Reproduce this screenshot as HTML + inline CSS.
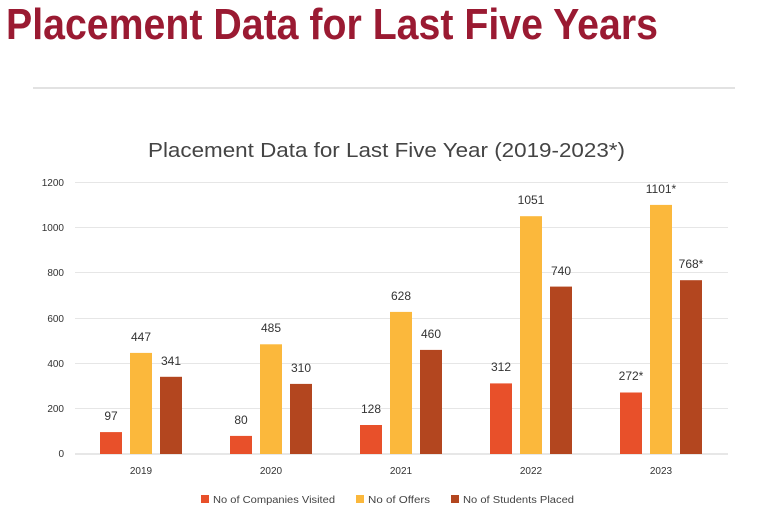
<!DOCTYPE html>
<html><head><meta charset="utf-8"><style>
html,body{margin:0;padding:0;background:#fff;}
svg{display:block;font-family:"Liberation Sans",sans-serif;}
</style></head><body>
<svg width="768" height="512" viewBox="0 0 768 512">
<text x="6" y="39" font-family="Liberation Sans Narrow, Liberation Sans, sans-serif" font-weight="bold" font-size="44" fill="#9a1a32" textLength="652" lengthAdjust="spacingAndGlyphs">Placement Data for Last Five Years</text>
<rect x="33" y="87" width="702" height="2" fill="#e2e2e2"/>
<text x="148" y="157" font-size="20" fill="#444" textLength="477" lengthAdjust="spacingAndGlyphs">Placement Data for Last Five Year (2019-2023*)</text>
<g stroke="#e6e6e6" stroke-width="1">
<line x1="75" x2="728" y1="182.5" y2="182.5"/>
<line x1="75" x2="728" y1="227.5" y2="227.5"/>
<line x1="75" x2="728" y1="272.5" y2="272.5"/>
<line x1="75" x2="728" y1="318.5" y2="318.5"/>
<line x1="75" x2="728" y1="363.5" y2="363.5"/>
<line x1="75" x2="728" y1="408.5" y2="408.5"/>
</g>
<line x1="75" x2="728" y1="454" y2="454" stroke="#cfcfcf" stroke-width="1"/>
<g font-size="10" fill="#333" text-anchor="end">
<text x="64" y="186">1200</text><text x="64" y="231">1000</text><text x="64" y="276">800</text>
<text x="64" y="322">600</text><text x="64" y="367">400</text><text x="64" y="412">200</text><text x="64" y="457">0</text>
</g>
<g>
<rect x="100" y="432.1" width="22" height="21.9" fill="#e8502a"/>
<rect x="130" y="352.9" width="22" height="101.1" fill="#fbb83c"/>
<rect x="160" y="376.8" width="22" height="77.2" fill="#b3461f"/>
<rect x="230" y="435.9" width="22" height="18.1" fill="#e8502a"/>
<rect x="260" y="344.3" width="22" height="109.7" fill="#fbb83c"/>
<rect x="290" y="383.9" width="22" height="70.1" fill="#b3461f"/>
<rect x="360" y="425" width="22" height="29" fill="#e8502a"/>
<rect x="390" y="311.9" width="22" height="142.1" fill="#fbb83c"/>
<rect x="420" y="349.9" width="22" height="104.1" fill="#b3461f"/>
<rect x="490" y="383.4" width="22" height="70.6" fill="#e8502a"/>
<rect x="520" y="216.2" width="22" height="237.8" fill="#fbb83c"/>
<rect x="550" y="286.6" width="22" height="167.4" fill="#b3461f"/>
<rect x="620" y="392.5" width="22" height="61.5" fill="#e8502a"/>
<rect x="650" y="204.9" width="22" height="249.1" fill="#fbb83c"/>
<rect x="680" y="280.2" width="22" height="173.8" fill="#b3461f"/>
</g>
<g font-size="12" fill="#333" text-anchor="middle">
<text x="111" y="420">97</text><text x="141" y="341">447</text><text x="171" y="365">341</text>
<text x="241" y="424">80</text><text x="271" y="332">485</text><text x="301" y="372">310</text>
<text x="371" y="413">128</text><text x="401" y="300">628</text><text x="431" y="338">460</text>
<text x="501" y="371">312</text><text x="531" y="204">1051</text><text x="561" y="275">740</text>
<text x="631" y="380">272*</text><text x="661" y="193">1101*</text><text x="691" y="268">768*</text>
</g>
<g font-size="10" fill="#333" text-anchor="middle">
<text x="141" y="474">2019</text><text x="271" y="474">2020</text><text x="401" y="474">2021</text><text x="531" y="474">2022</text><text x="661" y="474">2023</text>
</g>
<g font-size="10" fill="#444">
<rect x="201" y="495" width="8" height="8" fill="#e8502a"/><text x="213" y="503" textLength="122" lengthAdjust="spacingAndGlyphs">No of Companies Visited</text>
<rect x="356" y="495" width="8" height="8" fill="#fbb83c"/><text x="368" y="503" textLength="62" lengthAdjust="spacingAndGlyphs">No of Offers</text>
<rect x="451" y="495" width="8" height="8" fill="#b3461f"/><text x="463" y="503" textLength="111" lengthAdjust="spacingAndGlyphs">No of Students Placed</text>
</g>
</svg>
</body></html>
